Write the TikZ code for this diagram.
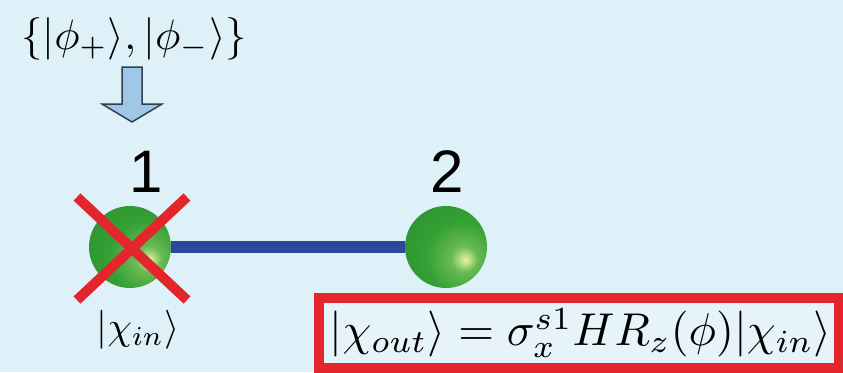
\documentclass[tikz,border=0pt]{standalone}
\usepackage{fontspec}
\newfontfamily\arialfont{Liberation Sans}
\definecolor{bg}{RGB}{222,240,248}
\definecolor{boxin}{RGB}{230,244,250}
\definecolor{bondblue}{RGB}{44,72,156}
\definecolor{xred}{RGB}{228,38,44}
\definecolor{arrowfill}{RGB}{160,198,232}
\definecolor{arrowline}{RGB}{50,62,80}
\definecolor{gdark}{RGB}{20,95,30}
\definecolor{gmid}{RGB}{52,160,52}
\definecolor{glight}{RGB}{232,245,160}
\pgfdeclareradialshading{greenball}{\pgfpoint{12bp}{-8bp}}{%
  color(0bp)=(glight); color(8bp)=(gmid!70!glight); color(22bp)=(gmid); color(45bp)=(gmid!75!gdark); color(62bp)=(gdark); color(100bp)=(gdark)}
\tikzset{
  sphere/.style={circle, minimum size=82pt, inner sep=0pt, shading=greenball},
  bond/.style={draw=bondblue, line width=12pt},
  cross/.style={draw=xred, line width=10pt},
  numlabel/.style={font=\arialfont\fontsize{60}{66}\selectfont, inner sep=0pt},
  mathlabel/.style={inner sep=0pt},
}
\begin{document}
\begin{tikzpicture}[x=1pt,y=-1pt]
\fill[bg] (0,0) rectangle (843,372);
\useasboundingbox (0,0) rectangle (843,372);
% top set
\node[mathlabel, scale=4.25] (set) at (134,39) {$\{|\phi_+\rangle,|\phi_-\rangle\}$};
% block arrow
\draw[fill=arrowfill, draw=arrowline, line width=1.5pt]
  (122,67) -- (142,67) -- (142,104) -- (162,104) -- (132,122) -- (102,104) -- (122,104) -- cycle;
% labels
\node[numlabel, anchor=base] (n1) at (146,192) {1};
\node[numlabel, anchor=base] (n2) at (447,192) {2};
% spheres
\node[sphere] (s1) at (130,247) {};
\node[sphere] (s2) at (446,247) {};
\draw[bond] (s1.east) -- (s2.west);
% red cross
\coordinate (c1) at (77,197);
\coordinate (c2) at (187,300);
\coordinate (c3) at (187,197);
\coordinate (c4) at (77,300);
\draw[cross] (c1) -- (c2);
\draw[cross] (c3) -- (c4);
% chi in label
\node[mathlabel, scale=3.9] (chiin) at (138,330) {$|\chi_{in}\rangle$};
% red box
\draw[draw=xred, fill=boxin, line width=10pt] (319,298) rectangle (839,368);
\node[mathlabel, scale=4.6, anchor=west] (formula) at (329,333) {$|\chi_{out}\rangle=\sigma_x^{s1}HR_z(\phi)|\chi_{in}\rangle$};
\end{tikzpicture}
\end{document}
